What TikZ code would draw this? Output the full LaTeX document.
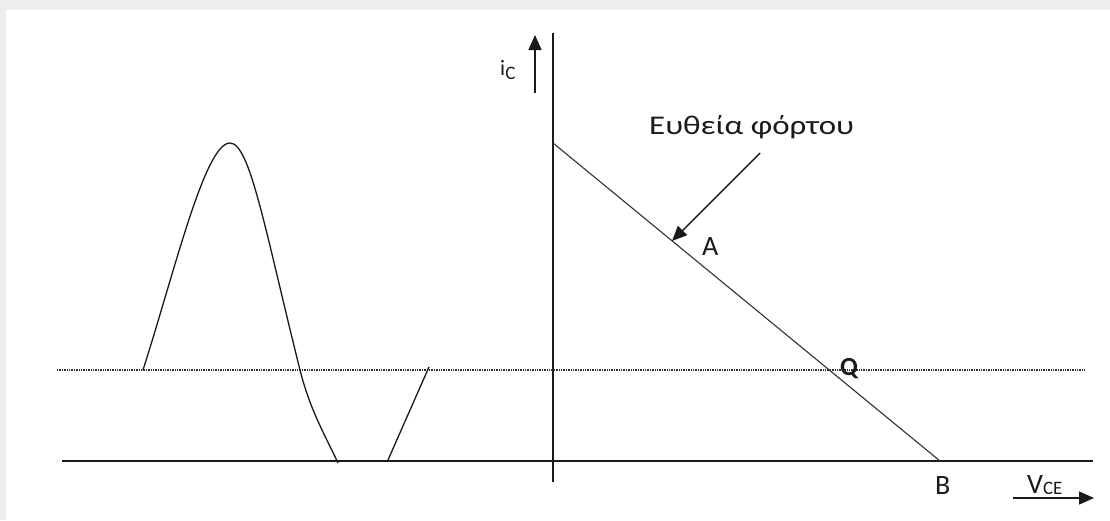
\documentclass[tikz,border=0pt]{standalone}
\usepackage{fontspec}
\setmainfont{Carlito}
\usetikzlibrary{arrows.meta,positioning}
\definecolor{ink}  {HTML}{1A1A1A}
\definecolor{dots} {HTML}{2E2E2E}
\definecolor{frame}{HTML}{EDEDED}
\tikzset{
  axis/.style    ={draw=ink, line width=1.4pt},
  loadline/.style={draw=ink!90, line width=1.1pt},
  qline/.style   ={draw=dots, line width=1.2pt, dash pattern=on 1.3pt off 1.1pt},
  wave/.style    ={draw=ink, line width=1.3pt},
  arr/.style     ={-{Triangle[length=15pt,width=13pt]}, line width=1.4pt, draw=ink},
  lbl/.style     ={font=\fontsize{28}{28}\selectfont, text=ink, inner sep=0pt},
  note/.style    ={font=\fontsize{27}{27}\selectfont, text=ink, inner sep=0pt},
}
\newcommand{\smallsub}[2]{\raisebox{-#2}{\fontsize{19}{19}\selectfont #1}}

\begin{document}
\begin{tikzpicture}[x=1pt,y=-1pt]
  % page and the grey screenshot edge
  \useasboundingbox (0,0) rectangle (1110,520);
  \fill[white] (0,0) rectangle (1110,520);
  \fill[frame] (0,0) rectangle (1110,10);
  \fill[frame] (0,0) rectangle (6,520);

  % axes
  \coordinate (o)  at (553,461);
  \coordinate (yt) at (553,33);
  \coordinate (yb) at (553,482);
  \coordinate (xl) at (62,461);
  \coordinate (xr) at (1093,461);
  \draw[axis] (yb) -- (yt);
  \draw[axis] (xl) -- (xr);

  % load line and operating point
  \coordinate (top) at (553,143);
  \coordinate (bpt) at (940,461);
  \coordinate (lA)  at (672,241);
  \coordinate (ql)  at (57,370);
  \coordinate (qr)  at (1085,370);
  \draw[loadline] (top) -- (bpt);
  \draw[qline] (ql) -- (qr);

  % signal
  \draw[wave] (143,370) .. controls (175,270) and (205,143) .. (230,143)
              .. controls (250,143) and (265,230) .. (300,370)
              .. controls (310,410) and (325,435) .. (338,463);
  \draw[wave] (388,460) -- (429,367);

  % labels
  \node[lbl, anchor=base west, font=\fontsize{22}{22}\selectfont] (ic) at (500,75) {i\smallsub{C}{4pt}};
  \coordinate (icb) at (535,93);
  \coordinate (ict) at (535,35);
  \draw[arr] (icb) -- (ict);

  \node[note, anchor=base west] (loadtxt) at (649,134) {\scalebox{1.22}[1]{Ευθεία φόρτου}};
  \coordinate (tail) at (760,153);
  \draw[arr] (tail) -- (lA);

  \node[lbl, anchor=base west] (pa) at (702,255) {A};
  \node[lbl, anchor=base west, font=\fontsize{26}{26}\selectfont\bfseries] (pq) at (840,375) {Q};
  \node[lbl, anchor=base west] (pb) at (935,494) {B};
  \node[lbl, anchor=base west] (vce) at (1027,493) {V\smallsub{CE}{1pt}};
  \coordinate (vl) at (1013,498);
  \coordinate (vr) at (1094,498);
  \draw[arr] (vl) -- (vr);
\end{tikzpicture}
\end{document}
